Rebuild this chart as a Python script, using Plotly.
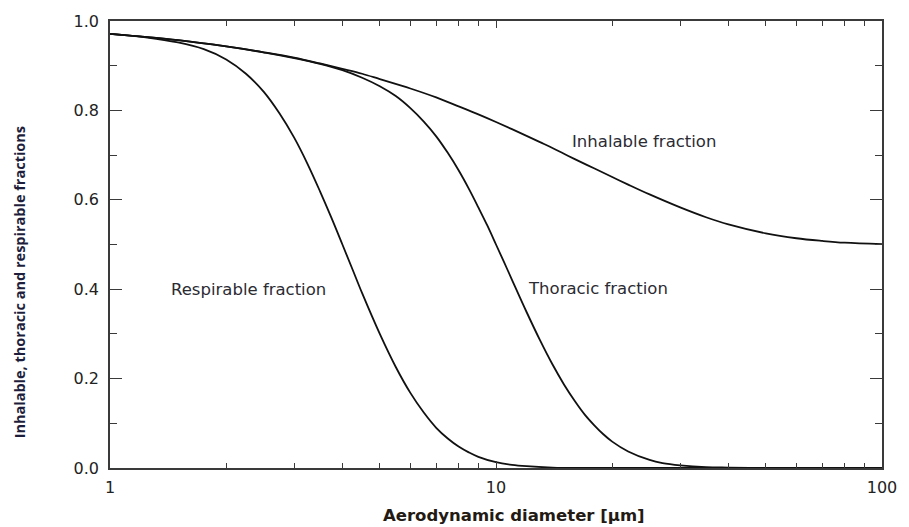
import plotly.graph_objects as go

# Aerodynamic diameter (µm) and fraction values for each convention
diam_inhalable = [1, 1.5, 2, 2.5, 3, 3.5, 4, 4.5, 5, 6, 7, 8, 9, 10, 11, 12, 13, 14, 15,
                  16, 18, 20, 22, 25, 30, 35, 40, 50, 60, 70, 80, 100]
inhalable = [0.971, 0.957, 0.943, 0.930, 0.918, 0.905, 0.893, 0.882, 0.870, 0.849,
             0.829, 0.809, 0.791, 0.774, 0.758, 0.743, 0.729, 0.716, 0.703, 0.691,
             0.670, 0.651, 0.634, 0.612, 0.583, 0.561, 0.545, 0.525, 0.514, 0.508,
             0.504, 0.501]

diam_thoracic = [1, 1.5, 2, 2.5, 3, 3.5, 4, 4.5, 5, 5.5, 6, 6.5, 7, 7.5, 8, 8.5, 9, 9.5,
                 10, 10.5, 11, 12, 13, 14, 15, 16, 17, 18, 19, 20, 22, 25, 27, 30, 35,
                 40, 50, 60, 100]
thoracic = [0.971, 0.957, 0.943, 0.930, 0.917, 0.904, 0.890, 0.873, 0.854, 0.832,
            0.805, 0.775, 0.742, 0.705, 0.666, 0.625, 0.583, 0.542, 0.500, 0.460,
            0.421, 0.349, 0.286, 0.232, 0.187, 0.150, 0.119, 0.095, 0.075, 0.059,
            0.037, 0.018, 0.011, 0.006, 0.002, 0.001, 0.0, 0.0, 0.0]

diam_respirable = [1, 1.25, 1.5, 1.75, 2, 2.25, 2.5, 2.75, 3, 3.25, 3.5, 3.75, 4, 4.25,
                   4.5, 5, 5.5, 6, 6.5, 7, 7.5, 8, 8.5, 9, 10, 11, 12, 14, 16, 20, 30,
                   50, 100]
respirable = [0.971, 0.963, 0.952, 0.937, 0.914, 0.882, 0.842, 0.793, 0.739, 0.680,
              0.619, 0.559, 0.500, 0.444, 0.391, 0.300, 0.226, 0.168, 0.124, 0.090,
              0.066, 0.048, 0.035, 0.025, 0.013, 0.007, 0.004, 0.001, 0.0, 0.0, 0.0,
              0.0, 0.0]

y_ticks = [0.0, 0.2, 0.4, 0.6, 0.8, 1.0]
y_tick_text = ["0.0", "0.2", "0.4", "0.6", "0.8", "1.0"]
y_minor_ticks = [0.1, 0.3, 0.5, 0.7, 0.9]
x_ticks = [1, 10, 100]
x_tick_text = ["1", "10", "100"]
x_minor_ticks = [2, 3, 4, 5, 6, 7, 8, 9, 20, 30, 40, 50, 60, 70, 80, 90]

# Plot area in pixels (used to place the free-standing titles)
PX_L, PX_R, PX_T, PX_B = 110, 888, 17, 468

fig = go.Figure()
line_style = dict(color="#111111", width=1.8, shape="spline", smoothing=1.0)
for xs, ys, name in [(diam_inhalable, inhalable, "Inhalable"),
                     (diam_thoracic, thoracic, "Thoracic"),
                     (diam_respirable, respirable, "Respirable")]:
    fig.add_trace(go.Scatter(x=xs, y=ys, mode="lines", name=name,
                             line=line_style, showlegend=False, hoverinfo="skip"))

label_font = dict(family="DejaVu Sans", size=16.5, color="#2b2b33")
fig.add_annotation(x=1.383, y=0.73, xref="x", yref="y", text="Inhalable fraction",
                   showarrow=False, font=label_font)
fig.add_annotation(x=0.36, y=0.399, xref="x", yref="y", text="Respirable fraction",
                   showarrow=False, font=label_font)
fig.add_annotation(x=1.265, y=0.401, xref="x", yref="y", text="Thoracic fraction",
                   showarrow=False, font=label_font)


def px_x(px):
    return (px - PX_L) / (PX_R - PX_L)


def px_y(py):
    return (PX_B - py) / (PX_B - PX_T)


fig.add_annotation(x=px_x(517), y=px_y(516), xref="paper", yref="paper",
                   text="<b>Aerodynamic diameter [µm]</b>", showarrow=False,
                   xanchor="center", yanchor="middle",
                   font=dict(family="DejaVu Sans", size=16.5, color="#231a14"))
fig.add_annotation(x=px_x(19), y=px_y(281), xref="paper", yref="paper",
                   text="<b>Inhalable, thoracic and respirable fractions</b>",
                   showarrow=False, textangle=-90, xanchor="center", yanchor="middle",
                   font=dict(family="Open Sans", size=14.5, color="#1e1e3c"))

axis_common = dict(showgrid=False, zeroline=False, showline=True, linecolor="#3a3a3a",
                   linewidth=1.5, mirror="allticks", ticks="inside", tickcolor="#3a3a3a",
                   tickwidth=1.3, tickfont=dict(family="DejaVu Sans", size=16, color="#222222"))

fig.update_layout(
    width=909, height=527,
    margin=dict(l=PX_L, r=909 - PX_R, t=PX_T, b=527 - PX_B),
    paper_bgcolor="white", plot_bgcolor="white",
    xaxis=dict(type="log", range=[0, 2], tickvals=x_ticks, ticktext=x_tick_text,
               ticklen=7, ticklabelstandoff=4,
               minor=dict(ticks="inside", ticklen=5, tickvals=x_minor_ticks,
                          tickcolor="#3a3a3a", tickwidth=1.1, showgrid=False),
               **axis_common),
    yaxis=dict(range=[0, 1], tickvals=y_ticks, ticktext=y_tick_text, ticklen=12,
               ticklabelstandoff=6,
               minor=dict(ticks="inside", ticklen=7, tickvals=y_minor_ticks,
                          tickcolor="#3a3a3a", tickwidth=1.1, showgrid=False),
               **axis_common),
)

fig.write_html("out.html")
